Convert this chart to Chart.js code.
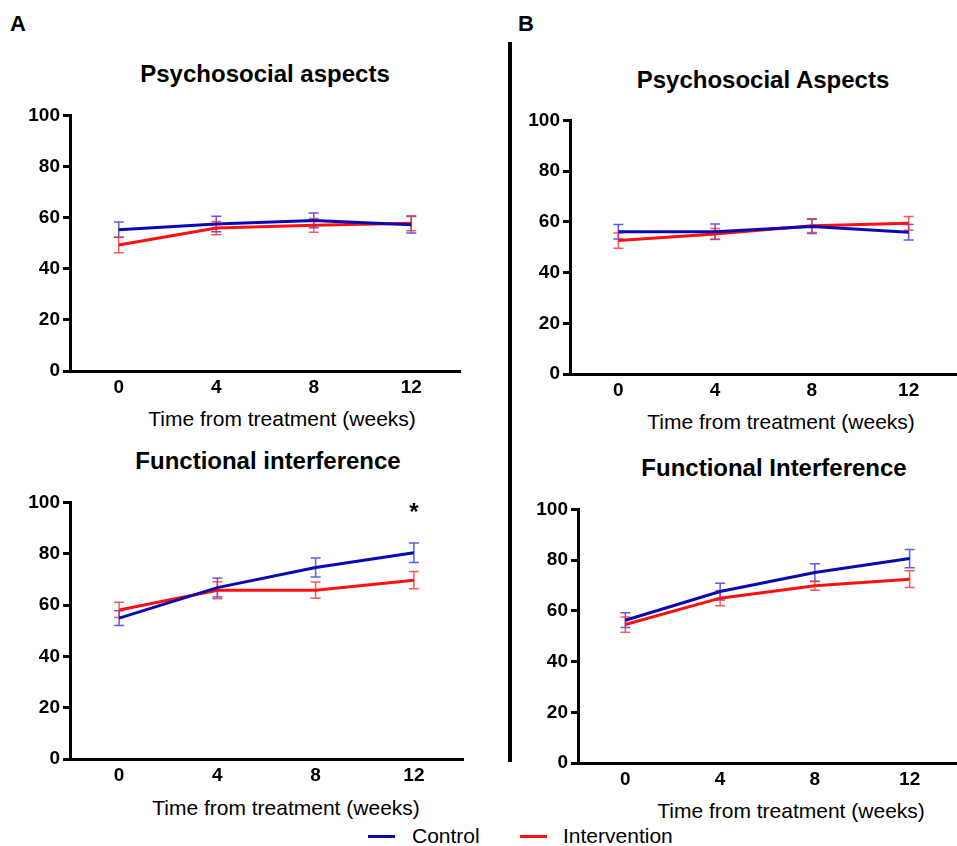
<!DOCTYPE html>
<html>
<head>
<meta charset="utf-8">
<script src="https://cdn.jsdelivr.net/npm/chart.js@4.4.1/dist/chart.umd.min.js"></script>
<style>
  html, body { margin: 0; padding: 0; background: #fff; }
  body { width: 957px; height: 846px; position: relative; overflow: hidden;
         font-family: "Liberation Sans", Arial, sans-serif; color: #000; }
  canvas { position: absolute; }
  .txt { position: absolute; transform: translate(-50%, -50%); white-space: nowrap; line-height: 1; }
  .title { font-weight: bold; font-size: 24px; }
  .xtitle { font-size: 21px; }
  .panel { font-weight: bold; font-size: 22px; }
  .divider { position: absolute; left: 508px; top: 42px; width: 4px; height: 720px; background: #000; }
  .leg { position: absolute; top: 824px; font-size: 21px; line-height: 24px; }
  .leg i { position: absolute; top: 11px; width: 27px; height: 3px; }
</style>
</head>
<body>

<div class="txt panel" style="left:18px; top:24px;">A</div>
<div class="txt panel" style="left:526px; top:24px;">B</div>
<div class="divider"></div>

<div class="txt title" style="left:265px; top:74px;">Psychosocial aspects</div>
<div class="txt title" style="left:763px; top:80px;">Psychosocial Aspects</div>
<div class="txt title" style="left:268px; top:461px;">Functional interference</div>
<div class="txt title" style="left:774px; top:468px;">Functional Interference</div>

<div class="txt xtitle" style="left:282px; top:418px;">Time from treatment (weeks)</div>
<div class="txt xtitle" style="left:781px; top:421px;">Time from treatment (weeks)</div>
<div class="txt xtitle" style="left:286px; top:807px;">Time from treatment (weeks)</div>
<div class="txt xtitle" style="left:791px; top:810px;">Time from treatment (weeks)</div>

<div class="leg" style="left:368px;"><i style="left:0; background:#0a0ab4;"></i><span style="position:absolute; left:44px;">Control</span></div>
<div class="leg" style="left:520px;"><i style="left:0; background:#ff1010;"></i><span style="position:absolute; left:43px;">Intervention</span></div>

<canvas id="aTop"></canvas>
<canvas id="aBottom"></canvas>
<canvas id="bTop"></canvas>
<canvas id="bBottom"></canvas>

<script>
// weeks from treatment
const weeks = [0, 4, 8, 12];
const yTicks = [0, 20, 40, 60, 80, 100];

// A: Psychosocial aspects
const aPsyControl = [55.3, 57.5, 58.9, 57.2];
const aPsyControlErr = [3.0, 3.0, 2.9, 3.2];
const aPsyInterv = [49.3, 55.9, 57.0, 57.8];
const aPsyIntervErr = [3.0, 2.6, 2.7, 2.9];

// A: Functional interference
const aFunControl = [54.9, 66.8, 74.6, 80.4];
const aFunControlErr = [2.9, 3.7, 3.7, 3.8];
const aFunInterv = [58.1, 65.8, 65.8, 69.7];
const aFunIntervErr = [3.0, 3.3, 3.2, 3.4];
const aFunStars = [{ week: 12, value: 98.5 }];

// B: Psychosocial Aspects
const bPsyControl = [56.1, 56.1, 58.2, 55.9];
const bPsyControlErr = [2.9, 3.0, 2.8, 3.1];
const bPsyInterv = [52.6, 55.2, 58.5, 59.4];
const bPsyIntervErr = [3.0, 2.2, 2.7, 2.7];

// B: Functional Interference
const bFunControl = [56.3, 67.6, 75.1, 80.6];
const bFunControlErr = [2.9, 3.3, 3.5, 3.6];
const bFunInterv = [54.6, 65.0, 69.9, 72.5];
const bFunIntervErr = [3.0, 3.0, 1.8, 3.3];

const BLUE = '#0a0ab4';
const BLUE_ERR = 'rgba(50,50,235,0.8)';
const RED = '#ff1010';
const RED_ERR = 'rgba(255,45,45,0.8)';

Chart.defaults.font.family = '"Liberation Sans", Arial, sans-serif';
Chart.defaults.color = '#000';

// error bars + significance marks, drawn through the chart scales
const errorBars = {
    id: 'errorBars',
    beforeDatasetsDraw(chart) {
        const { ctx } = chart;
        const x = chart.scales.x, y = chart.scales.y;
        chart.data.datasets.forEach(ds => {
            ctx.save();
            ctx.strokeStyle = ds.errorColor;
            ctx.lineWidth = 1.5;
            ds.data.forEach((pt, i) => {
                const px = x.getPixelForValue(pt.x);
                const top = y.getPixelForValue(pt.y + ds.errors[i]);
                const bot = y.getPixelForValue(pt.y - ds.errors[i]);
                ctx.beginPath();
                ctx.moveTo(px, top); ctx.lineTo(px, bot);
                ctx.moveTo(px - 5, top); ctx.lineTo(px + 5, top);
                ctx.moveTo(px - 5, bot); ctx.lineTo(px + 5, bot);
                ctx.stroke();
            });
            ctx.restore();
        });
    },
    afterDatasetsDraw(chart, args, opts) {
        if (!opts.stars) return;
        const { ctx } = chart;
        ctx.save();
        ctx.font = 'bold 24px "Liberation Sans", Arial, sans-serif';
        ctx.textAlign = 'center';
        ctx.textBaseline = 'alphabetic';
        ctx.fillStyle = '#000';
        opts.stars.forEach(s => {
            const px = chart.scales.x.getPixelForValue(s.week);
            const py = chart.scales.y.getPixelForValue(s.value);
            ctx.fillText('*', px, py + 14);
        });
        ctx.restore();
    }
};

function makeSeries(label, values, errors, color, errColor, order) {
    return {
        label,
        data: weeks.map((w, i) => ({ x: w, y: values[i] })),
        errors,
        errorColor: errColor,
        borderColor: color,
        borderWidth: 3,
        pointRadius: 0,
        tension: 0,
        fill: false,
        order
    };
}

function makePanel(id, box, control, controlErr, interv, intervErr, stars) {
    const yW = 70, padTop = 12, xH = 34;
    const padRight = box.right >= 957 ? 0 : 8;
    const canvas = document.getElementById(id);
    const left = box.left - yW, top = box.top - padTop;
    const width = box.right - left + padRight;
    const height = box.bottom - top + xH;
    canvas.style.left = left + 'px';
    canvas.style.top = top + 'px';
    canvas.width = width;
    canvas.height = height;

    return new Chart(canvas.getContext('2d'), {
        type: 'line',
        data: {
            datasets: [
                makeSeries('Control', control, controlErr, BLUE, BLUE_ERR, 0),
                makeSeries('Intervention', interv, intervErr, RED, RED_ERR, 1)
            ]
        },
        options: {
            responsive: false,
            animation: false,
            layout: { padding: { top: padTop, right: padRight, left: 0, bottom: 0 } },
            plugins: {
                legend: { display: false },
                tooltip: { enabled: false },
                errorBars: { stars }
            },
            scales: {
                x: {
                    type: 'linear',
                    min: -2,
                    max: 14,
                    afterBuildTicks: s => { s.ticks = weeks.map(v => ({ value: v })); },
                    afterFit: s => { s.height = xH; },
                    grid: { display: false, drawTicks: false },
                    border: { display: true, color: '#000', width: 3 },
                    ticks: { font: { size: 19, weight: 'bold' }, padding: 5, maxRotation: 0 }
                },
                y: {
                    min: 0,
                    max: 100,
                    afterBuildTicks: s => { s.ticks = yTicks.map(v => ({ value: v })); },
                    afterFit: s => { s.width = yW; },
                    grid: { drawOnChartArea: false, tickLength: 7, tickWidth: 3, color: '#000' },
                    border: { display: true, color: '#000', width: 3 },
                    ticks: { font: { size: 19, weight: 'bold' }, padding: 3 }
                }
            }
        },
        plugins: [errorBars]
    });
}

makePanel('aTop', { left: 70, right: 460, top: 113, bottom: 371 },
    aPsyControl, aPsyControlErr, aPsyInterv, aPsyIntervErr, null);
makePanel('aBottom', { left: 70, right: 463, top: 500, bottom: 759 },
    aFunControl, aFunControlErr, aFunInterv, aFunIntervErr, aFunStars);
makePanel('bTop', { left: 570, right: 957, top: 118, bottom: 374 },
    bPsyControl, bPsyControlErr, bPsyInterv, bPsyIntervErr, null);
makePanel('bBottom', { left: 578, right: 957, top: 507, bottom: 763 },
    bFunControl, bFunControlErr, bFunInterv, bFunIntervErr, null);
</script>
</body>
</html>
